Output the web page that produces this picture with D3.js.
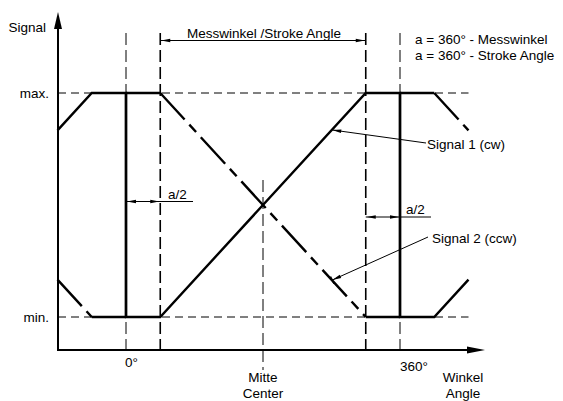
<!DOCTYPE html>
<html>
<head>
<meta charset="utf-8">
<script src="https://cdn.jsdelivr.net/npm/d3@7"></script>
<style>
    body { margin: 0; background: #fff; }
    svg text { font-family: "Liberation Sans", Arial, sans-serif; font-size: 13.5px; fill: #000; }
</style>
</head>
<body>
<svg id="chart" width="563" height="401"></svg>
<script>
// Angle in degrees, signal level 0 = min, 1 = max
var signal1 = [[-90, 0.833], [-45, 1], [0, 1], [0, 0], [45, 0], [315, 1], [360, 1], [360, 0], [405, 0], [450, 0.167]];
var signal2 = [[-90, 0.167], [-45, 0], [0, 0], [0, 1], [45, 1], [315, 0], [360, 0], [360, 1], [405, 1], [450, 0.833]];

// Reference angles
var angleMarks = [0, 360];
var strokeMarks = [45, 315];
var centerMark = 180;
var levelLabels = [{'level': 1, 'text': 'max.'}, {'level': 0, 'text': 'min.'}];

var svg = d3.select('#chart');

var x = d3.scaleLinear().domain([-90, 450]).range([57.5, 468.5]);
var y = d3.scaleLinear().domain([0, 1]).range([317, 93]);

var axisX = 58, axisY = 350;

// Small filled arrow head, tip at (tx, ty), pointing along angle a
function arrowHead(g, tx, ty, a, len, w)
{
    var c = Math.cos(a), s = Math.sin(a);
    var bx = tx - c * len, by = ty - s * len;
    g.append('path')
        .attr('d', 'M' + tx + ',' + ty +
                   'L' + (bx - s * w) + ',' + (by + c * w) +
                   'L' + (bx + s * w) + ',' + (by - c * w) + 'Z')
        .attr('fill', '#000');
}

//--------------------------------------------------------------
// Level reference lines

svg.selectAll('line.level')
    .data(levelLabels)
  .enter().append('line')
    .attr('x1', axisX).attr('x2', x(450))
    .attr('y1', function(d){ return y(d.level); })
    .attr('y2', function(d){ return y(d.level); })
    .attr('stroke', '#000').attr('stroke-width', 1)
    .attr('stroke-dasharray', '8,5');

svg.selectAll('text.level')
    .data(levelLabels)
  .enter().append('text')
    .attr('x', 49)
    .attr('y', function(d){ return y(d.level) + 4.5; })
    .attr('text-anchor', 'end')
    .text(function(d){ return d.text; });

//--------------------------------------------------------------
// Vertical reference lines

svg.selectAll('line.angle')
    .data(angleMarks)
  .enter().append('line')
    .attr('x1', function(d){ return x(d); }).attr('x2', function(d){ return x(d); })
    .attr('y1', 33).attr('y2', axisY)
    .attr('stroke', '#000').attr('stroke-width', 1)
    .attr('stroke-dasharray', '12,5');

svg.selectAll('line.stroke')
    .data(strokeMarks)
  .enter().append('line')
    .attr('x1', function(d){ return x(d); }).attr('x2', function(d){ return x(d); })
    .attr('y1', 33).attr('y2', axisY)
    .attr('stroke', '#000').attr('stroke-width', 1.6)
    .attr('stroke-dasharray', '12,5');

svg.append('line')
    .attr('x1', x(centerMark)).attr('x2', x(centerMark))
    .attr('y1', 180).attr('y2', 370)
    .attr('stroke', '#000').attr('stroke-width', 1)
    .attr('stroke-dasharray', '12,5');

//--------------------------------------------------------------
// Signals

var line = d3.line()
    .x(function(d){ return x(d[0]); })
    .y(function(d){ return y(d[1]); });

svg.append('path')
    .attr('d', line(signal1))
    .attr('fill', 'none').attr('stroke', '#000').attr('stroke-width', 2.4)
    .attr('stroke-linejoin', 'miter');

// Signal 2: ramps and max parts dashed, min parts solid
d3.pairs(signal2).forEach(function(p)
{
    var solid = (p[0][1] == 0 && p[1][1] == 0) || p[0][0] == p[1][0];
    svg.append('path')
        .attr('d', line(p))
        .attr('fill', 'none').attr('stroke', '#000').attr('stroke-width', 2.4)
        .attr('stroke-dasharray', solid ? null : '36,7,10,7');
});

//--------------------------------------------------------------
// Axes

svg.append('line')
    .attr('x1', axisX).attr('x2', axisX).attr('y1', axisY + 1).attr('y2', 24)
    .attr('stroke', '#000').attr('stroke-width', 2);
arrowHead(svg, axisX, 12, -Math.PI / 2, 17, 4);

svg.append('line')
    .attr('x1', axisX - 1).attr('x2', 472).attr('y1', axisY).attr('y2', axisY)
    .attr('stroke', '#000').attr('stroke-width', 2);
arrowHead(svg, 485, axisY, 0, 18, 3.5);

svg.append('text').attr('x', 46).attr('y', 32).attr('text-anchor', 'end').text('Signal');
svg.append('text').attr('x', x(0) - 1).attr('y', 367).text('0°');
svg.append('text').attr('x', x(360)).attr('y', 371).text('360°');
svg.append('text').attr('x', x(centerMark)).attr('y', 382).attr('text-anchor', 'middle').text('Mitte');
svg.append('text').attr('x', x(centerMark)).attr('y', 397.5).attr('text-anchor', 'middle').text('Center');
svg.append('text').attr('x', 463).attr('y', 382).attr('text-anchor', 'middle').text('Winkel');
svg.append('text').attr('x', 463).attr('y', 397.5).attr('text-anchor', 'middle').text('Angle');

//--------------------------------------------------------------
// Dimensions

var dimY = 40.5;
svg.append('line')
    .attr('x1', x(45)).attr('x2', x(315)).attr('y1', dimY).attr('y2', dimY)
    .attr('stroke', '#000').attr('stroke-width', 1);
arrowHead(svg, x(45) + 1, dimY, Math.PI, 9, 1.8);
arrowHead(svg, x(315) - 1, dimY, 0, 9, 1.8);
svg.append('text').attr('x', (x(45) + x(315)) / 2 + 1).attr('y', 37.5)
    .attr('text-anchor', 'middle').text('Messwinkel /Stroke Angle');

svg.append('text').attr('x', 415).attr('y', 43.5).text('a = 360° - Messwinkel');
svg.append('text').attr('x', 415).attr('y', 59.5).text('a = 360° - Stroke Angle');

// a/2 left
var aY1 = 201.5;
svg.append('line')
    .attr('x1', x(0)).attr('x2', 193).attr('y1', aY1).attr('y2', aY1)
    .attr('stroke', '#000').attr('stroke-width', 1);
arrowHead(svg, x(0) + 1, aY1, Math.PI, 9, 1.8);
arrowHead(svg, x(45) - 1, aY1, 0, 9, 1.8);
svg.append('text').attr('x', 168).attr('y', 198.5).text('a/2');

// a/2 right
var aY2 = 217;
svg.append('line')
    .attr('x1', x(315)).attr('x2', 431).attr('y1', aY2).attr('y2', aY2)
    .attr('stroke', '#000').attr('stroke-width', 1);
arrowHead(svg, x(315) + 1, aY2, Math.PI, 9, 1.8);
arrowHead(svg, x(360) - 1, aY2, 0, 9, 1.8);
svg.append('text').attr('x', 406).attr('y', 213.5).text('a/2');

//--------------------------------------------------------------
// Leaders

var leaders = [
    {'from': [426, 143], 'deg': 271, 'level': 0.835, 'text': 'Signal 1 (cw)', 'tx': 427, 'ty': 148.5, 'bar': false},
    {'from': [428, 237], 'deg': 271, 'level': 0.165, 'text': 'Signal 2 (ccw)', 'tx': 432, 'ty': 242.5, 'bar': true}
];

leaders.forEach(function(d)
{
    var tx = x(d.deg), ty = y(d.level);
    var a = Math.atan2(ty - d.from[1], tx - d.from[0]);
    svg.append('line')
        .attr('x1', d.from[0]).attr('y1', d.from[1]).attr('x2', tx).attr('y2', ty)
        .attr('stroke', '#000').attr('stroke-width', 1);
    arrowHead(svg, tx, ty, a, 9, 1.8);
    if (d.bar)
    {
        var s = Math.sin(a), c = Math.cos(a);
        svg.append('line')
            .attr('x1', tx - s * 4).attr('y1', ty + c * 4)
            .attr('x2', tx + s * 4).attr('y2', ty - c * 4)
            .attr('stroke', '#000').attr('stroke-width', 1.2);
    }
    svg.append('text').attr('x', d.tx).attr('y', d.ty).text(d.text);
});
</script>
</body>
</html>
